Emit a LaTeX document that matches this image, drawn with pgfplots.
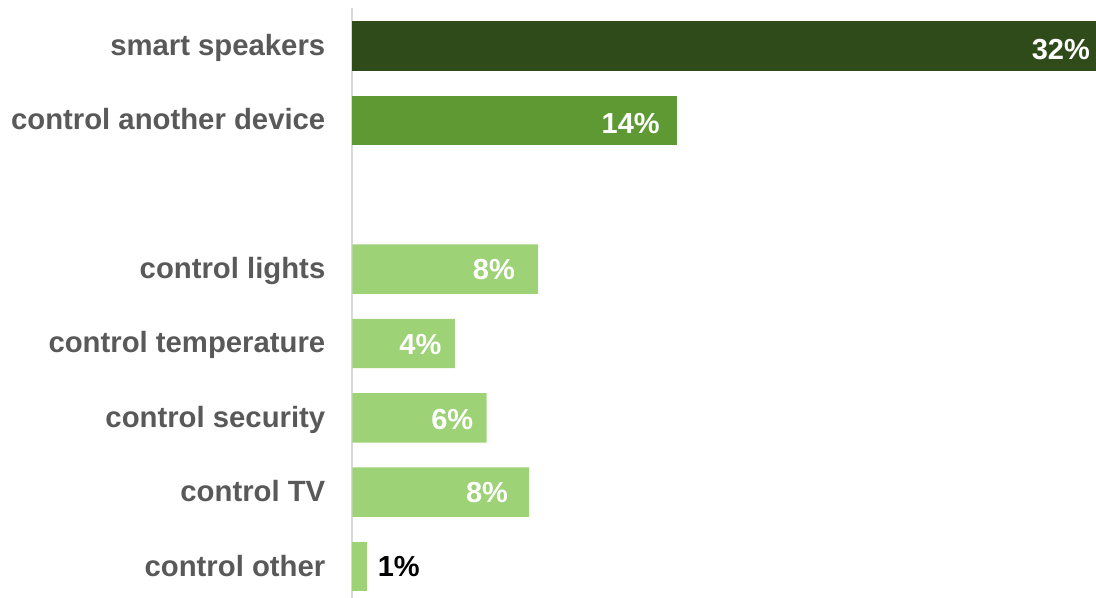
\documentclass[border=0pt]{standalone}
\usepackage{fontspec}
\setmainfont{Liberation Sans}
\usepackage{pgfplots}
\pgfplotsset{compat=1.18}
\definecolor{dkgreen}{HTML}{2F4B1A}
\definecolor{mdgreen}{HTML}{5E9934}
\definecolor{ltgreen}{HTML}{9DD277}
\definecolor{lblgray}{HTML}{595959}
\definecolor{axgray}{HTML}{D9D9D9}
\begin{document}
\begin{tikzpicture}
\begin{axis}[
  name=ax,
  scale only axis,
  width=743bp, height=590bp,
  xbar, bar shift=0pt, bar width=0.664,
  xmin=0, xmax=32,
  ymin=-0.511, ymax=7.423, y dir=reverse,
  axis x line=none, axis y line*=left,
  y axis line style={draw=axgray, line width=2bp},
  ytick={0,1,3,4,5,6,7},
  yticklabels={smart speakers,control another device,control lights,control temperature,control security,control TV,control other},
  major tick length=0pt,
  yticklabel style={anchor=base east, inner sep=0pt, xshift=-27bp, yshift=-9.5bp, text=lblgray,
    font=\fontsize{29.3bp}{35bp}\selectfont\bfseries},
  nodes near coords,
  point meta=explicit symbolic,
  visualization depends on={value \thisrow{shift} \as \lshift},
  visualization depends on={value \thisrow{vs} \as \vshift},
  nodes near coords style={anchor=base east, inner sep=0pt, xshift=\lshift bp, yshift=-\vshift bp, text=white,
    font=\fontsize{29bp}{35bp}\selectfont\bfseries},
  clip=false,
]
\addplot[fill=dkgreen, draw=none, bar shift=0pt]
  table[x=x, y=y, meta=lbl, row sep=\\] {
  x y lbl shift vs \\
  32.0 0 32\% -5.5 14 \\
};
\addplot[fill=mdgreen, draw=none, bar shift=0pt]
  table[x=x, y=y, meta=lbl, row sep=\\] {
  x y lbl shift vs \\
  13.96 1 14\% -16.7 13 \\
};
\addplot[fill=ltgreen, draw=none, bar shift=0pt]
  table[x=x, y=y, meta=lbl, row sep=\\] {
  x y lbl shift vs \\
  7.99 3 8\% -23 10.5 \\
  4.41 4 4\% -13.3 11 \\
  5.78 5 6\% -13.3 12 \\
  7.61 6 8\% -21 10.5 \\
};
\addplot[fill=ltgreen, draw=none, bar shift=0pt, nodes near coords style={text=black}]
  table[x=x, y=y, meta=lbl, row sep=\\] {
  x y lbl shift vs \\
  0.61 7 1\% 53.3 9.5 \\
};
\end{axis}
\pgfresetboundingbox
\path[use as bounding box] ([xshift=-352.5bp,yshift=8bp]ax.north west) rectangle ([xshift=0.5bp]ax.south east);
\end{tikzpicture}
\end{document}
